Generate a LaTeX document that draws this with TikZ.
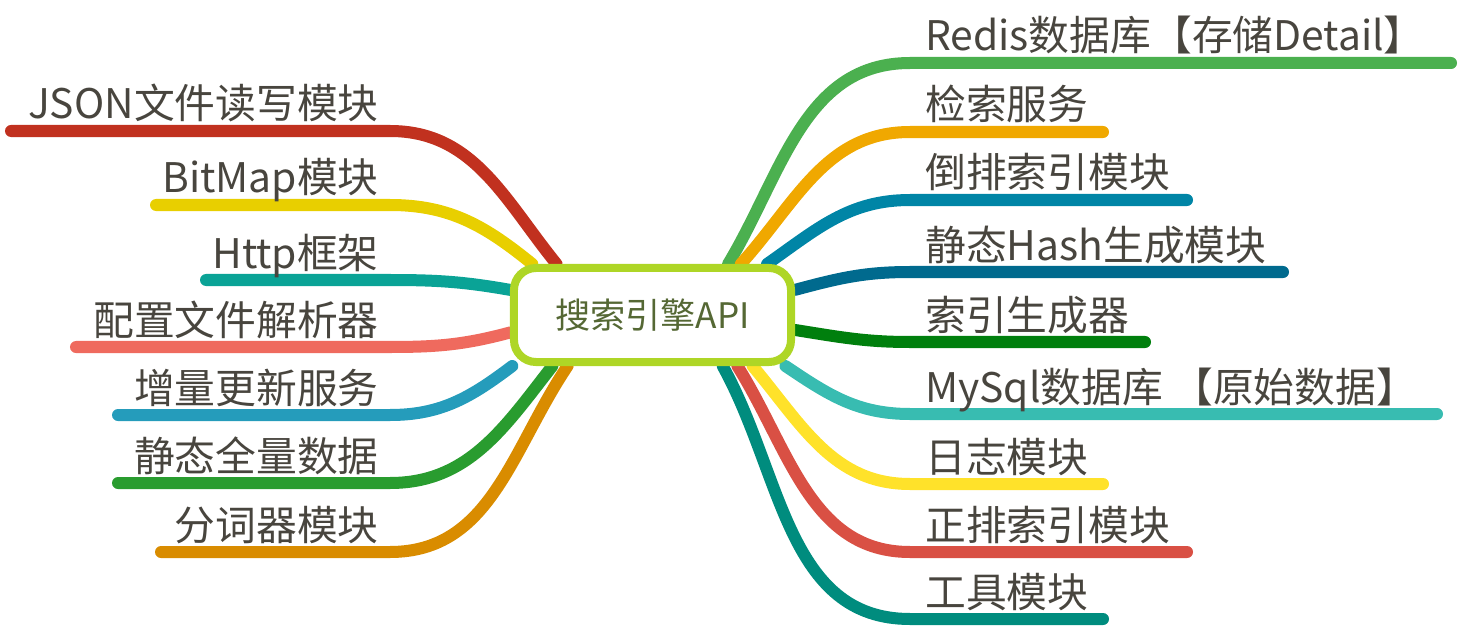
\documentclass[tikz,border=0pt]{standalone}
\usepackage{fontspec}
\newfontfamily\cjk{Noto Sans CJK SC}
\usetikzlibrary{backgrounds}
\definecolor{txt}{RGB}{72,69,62}
\definecolor{apitxt}{RGB}{85,104,52}
\definecolor{lime}{RGB}{174,214,38}
% left branches
\definecolor{jsonred}{RGB}{193,49,31}
\definecolor{bityellow}{RGB}{232,207,0}
\definecolor{httpteal}{RGB}{10,163,150}
\definecolor{cfgsalmon}{RGB}{239,106,94}
\definecolor{incblue}{RGB}{37,156,187}
\definecolor{fullgreen}{RGB}{41,156,47}
\definecolor{segorange}{RGB}{217,140,0}
% right branches
\definecolor{redisgreen}{RGB}{75,176,79}
\definecolor{searchorange}{RGB}{240,168,0}
\definecolor{invblue}{RGB}{0,133,166}
\definecolor{hashblue}{RGB}{0,106,142}
\definecolor{idxgreen}{RGB}{0,127,13}
\definecolor{mysqlteal}{RGB}{56,188,177}
\definecolor{logyellow}{RGB}{255,226,42}
\definecolor{fwdred}{RGB}{217,80,68}
\definecolor{toolteal}{RGB}{0,140,126}
\tikzset{
  hub/.style={draw=lime,line width=2mm,fill=white,rounded corners=5.5mm,
    minimum width=6.925cm,minimum height=2.35cm,inner sep=0pt,
    font=\cjk\fontsize{25}{30}\selectfont,text=apitxt},
  topic/.style={inner sep=0pt,font=\cjk\fontsize{29}{34}\selectfont,text=txt},
  branch/.style={line width=3mm,line cap=round,draw=#1},
}
\begin{document}
\begin{tikzpicture}[x=0.025cm,y=0.025cm]
  \useasboundingbox (0,0) rectangle (1460,-630);
  \node[hub] (api) at (652.5,-315) {搜索引擎API};
  % left side
  \foreach \n/\c/\y/\s/\a/\i/\t in {json/jsonred/-131/11/152/129/JSON文件读写模块,
      bitmap/bityellow/-205/156/157/141/BitMap模块,
      http/httpteal/-280/206/170/170/Http框架,
      cfg/cfgsalmon/-347/76/187/195/配置文件解析器,
      inc/incblue/-415/118/200/217/增量更新服务,
      full/fullgreen/-483/118/207/232/静态全量数据,
      seg/segorange/-552/161/211/236/分词器模块}{
    \node[topic,anchor=base east] (\n) at (379,\y+12) {\t};
    \coordinate (\n-end) at (\s,\y);
    \begin{scope}[on background layer]
      \draw[branch=\c] (\n-end) -- (390,\y) to[out=0,in=\i] (api.\a);
    \end{scope}
  }
  % right side
  \foreach \n/\c/\y/\s/\a/\o/\t in {redis/redisgreen/-63/1451/34/59/Redis数据库【存储Detail】,
      search/searchorange/-132/1103/30/48/检索服务,
      inv/invblue/-200/1187/24/35/倒排索引模块,
      hash/hashblue/-272/1283/10/15/静态Hash生成模块,
      idx/idxgreen/-342/1145/354/351/索引生成器,
      mysql/mysqlteal/-414/1437/339/326/MySql数据库 【原始数据】,
      log/logyellow/-484/1103/333/310/日志模块,
      fwd/fwdred/-552/1187/329/302/正排索引模块,
      tool/toolteal/-619/1103/324/299/工具模块}{
    \node[topic,anchor=base west] (\n) at (925,\y+12) {\t};
    \coordinate (\n-end) at (\s,\y);
    \begin{scope}[on background layer]
      \draw[branch=\c] (api.\a) to[out=\o,in=180] (910,\y) -- (\n-end);
    \end{scope}
  }
\end{tikzpicture}
\end{document}
